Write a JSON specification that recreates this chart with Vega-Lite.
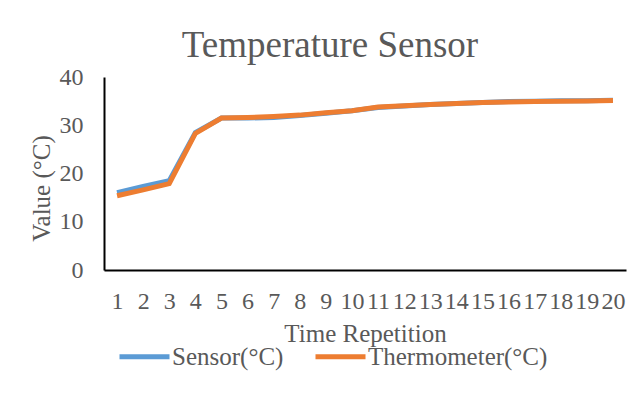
{
  "$schema": "https://vega.github.io/schema/vega-lite/v6.json",
  "autosize": {"type": "none"},
  "width": 522,
  "height": 193,
  "padding": {"left": 104, "top": 77, "right": 10, "bottom": 124},
  "background": "white",
  "title": {
    "text": "Temperature Sensor",
    "font": "Liberation Serif",
    "fontSize": 37,
    "fontWeight": "normal",
    "color": "#595959",
    "anchor": "middle",
    "frame": "group",
    "dx": -35,
    "baseline": "alphabetic",
    "offset": -29
  },
  "data": {
    "values": [
      {"t": 1, "series": "Sensor(°C)", "value": 16.0},
      {"t": 2, "series": "Sensor(°C)", "value": 17.3},
      {"t": 3, "series": "Sensor(°C)", "value": 18.5},
      {"t": 4, "series": "Sensor(°C)", "value": 28.5},
      {"t": 5, "series": "Sensor(°C)", "value": 31.5},
      {"t": 6, "series": "Sensor(°C)", "value": 31.5},
      {"t": 7, "series": "Sensor(°C)", "value": 31.6},
      {"t": 8, "series": "Sensor(°C)", "value": 32.0},
      {"t": 9, "series": "Sensor(°C)", "value": 32.5},
      {"t": 10, "series": "Sensor(°C)", "value": 33.0},
      {"t": 11, "series": "Sensor(°C)", "value": 33.7},
      {"t": 12, "series": "Sensor(°C)", "value": 34.0},
      {"t": 13, "series": "Sensor(°C)", "value": 34.3},
      {"t": 14, "series": "Sensor(°C)", "value": 34.5},
      {"t": 15, "series": "Sensor(°C)", "value": 34.7},
      {"t": 16, "series": "Sensor(°C)", "value": 34.9},
      {"t": 17, "series": "Sensor(°C)", "value": 35.0},
      {"t": 18, "series": "Sensor(°C)", "value": 35.1},
      {"t": 19, "series": "Sensor(°C)", "value": 35.1},
      {"t": 20, "series": "Sensor(°C)", "value": 35.2},
      {"t": 1, "series": "Thermometer(°C)", "value": 15.4},
      {"t": 2, "series": "Thermometer(°C)", "value": 16.6},
      {"t": 3, "series": "Thermometer(°C)", "value": 17.9},
      {"t": 4, "series": "Thermometer(°C)", "value": 28.3},
      {"t": 5, "series": "Thermometer(°C)", "value": 31.5},
      {"t": 6, "series": "Thermometer(°C)", "value": 31.6},
      {"t": 7, "series": "Thermometer(°C)", "value": 31.8},
      {"t": 8, "series": "Thermometer(°C)", "value": 32.1},
      {"t": 9, "series": "Thermometer(°C)", "value": 32.6},
      {"t": 10, "series": "Thermometer(°C)", "value": 33.0},
      {"t": 11, "series": "Thermometer(°C)", "value": 33.8},
      {"t": 12, "series": "Thermometer(°C)", "value": 34.05},
      {"t": 13, "series": "Thermometer(°C)", "value": 34.3},
      {"t": 14, "series": "Thermometer(°C)", "value": 34.5},
      {"t": 15, "series": "Thermometer(°C)", "value": 34.7},
      {"t": 16, "series": "Thermometer(°C)", "value": 34.8},
      {"t": 17, "series": "Thermometer(°C)", "value": 34.9},
      {"t": 18, "series": "Thermometer(°C)", "value": 34.95},
      {"t": 19, "series": "Thermometer(°C)", "value": 35.05},
      {"t": 20, "series": "Thermometer(°C)", "value": 35.15}
    ]
  },
  "mark": {"type": "line", "strokeWidth": 5, "strokeJoin": "miter", "strokeCap": "butt"},
  "encoding": {
    "x": {
      "field": "t",
      "type": "ordinal",
      "scale": {"type": "point", "padding": 0.5},
      "axis": {
        "title": "Time Repetition",
        "labelAngle": 0,
        "labelFont": "Liberation Serif",
        "labelFontSize": 24,
        "labelColor": "#595959",
        "labelBaseline": "alphabetic",
        "labelPadding": 38,
        "ticks": false,
        "tickSize": 0,
        "domainColor": "#000000",
        "domainWidth": 2,
        "grid": false,
        "labelOverlap": false,
        "titleFont": "Liberation Serif",
        "titleFontSize": 25,
        "titleFontWeight": "normal",
        "titleColor": "#595959",
        "titleBaseline": "alphabetic",
        "titleY": 71,
        "titleX": 261
      }
    },
    "y": {
      "field": "value",
      "type": "quantitative",
      "scale": {"domain": [0, 40]},
      "axis": {
        "title": "Value (°C)",
        "values": [0, 10, 20, 30, 40],
        "labelFont": "Liberation Serif",
        "labelFontSize": 24,
        "labelColor": "#595959",
        "labelPadding": 21,
        "ticks": false,
        "tickSize": 0,
        "domainColor": "#000000",
        "domainWidth": 2,
        "grid": false,
        "titleFont": "Liberation Serif",
        "titleFontSize": 25,
        "titleFontWeight": "normal",
        "titleColor": "#595959",
        "titleBaseline": "alphabetic",
        "titleAngle": -90,
        "titleX": -55,
        "titleY": 111
      }
    },
    "color": {
      "field": "series",
      "type": "nominal",
      "scale": {"domain": ["Sensor(°C)", "Thermometer(°C)"], "range": ["#5B9BD5", "#ED7D31"]},
      "legend": {
        "title": null,
        "orient": "none",
        "direction": "horizontal",
        "legendX": 13,
        "legendY": 252,
        "padding": 0,
        "symbolType": "stroke",
        "symbolSize": 2500,
        "symbolStrokeWidth": 5,
        "labelFont": "Liberation Serif",
        "labelFontSize": 25,
        "labelColor": "#595959",
        "labelOffset": 0,
        "labelLimit": 400,
        "columnPadding": 21
      }
    }
  },
  "config": {"view": {"stroke": null}}
}
